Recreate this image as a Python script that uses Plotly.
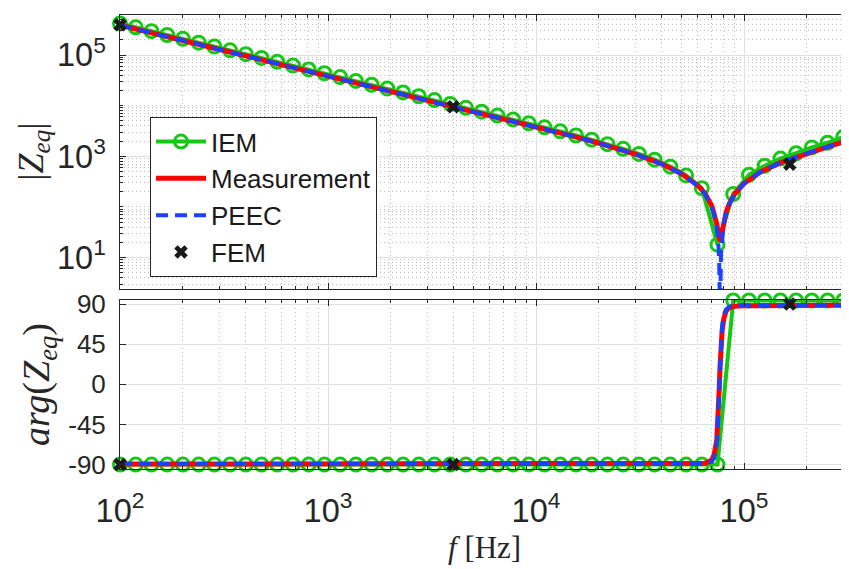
import plotly.graph_objects as go

# ---------------- data ----------------
iem_f = [100, 119.0, 141.6, 168.6, 200.6, 238.8, 284.2, 338.2, 402.5, 479.0,
         570.1, 678.5, 807.5, 961.0, 1143.7, 1361.2, 1620.0, 1927.9, 2294.5, 2730.8,
         3250.0, 3868.0, 4603.4, 5478.6, 6520.3, 7760.0, 9235.4, 10991, 13081, 15568,
         18528, 22051, 26244, 31233, 37172, 44240, 52652, 62662, 74577, 88756,
         105632, 125716, 149620, 178067, 211924, 252218, 300000]
iem_mag = [418830, 351960, 295780, 248420, 208790, 175390, 147370, 123840, 104060, 87440,
           73460, 61720, 51860, 43580, 36610, 30760, 25840, 21710, 18240, 15320,
           12860, 10800, 9065, 7605, 6376, 5341, 4468, 3731, 3107, 2577,
           2126, 1739, 1405, 1114, 857, 625, 420, 235, 18, 180,
           430, 650, 900, 1150, 1500, 1850, 2400]
iem_phase = [-90, -90, -90, -90, -90, -90, -90, -90, -90, -90,
             -90, -90, -90, -90, -90, -90, -90, -90, -90, -90,
             -90, -90, -90, -90, -90, -90, -90, -90, -90, -90,
             -90, -90, -90, -90, -90, -90, -90, -90, -90, 94,
             94, 94, 94, 94, 94, 94, 94]

meas_f = [100, 150, 200, 300, 500, 700, 1000, 1500, 2000, 3000,
          5000, 7000, 10000, 15000, 20000, 30000, 40000, 50000, 60000, 65000,
          70000, 72000, 74000, 75000, 76000, 76700, 77500, 78500, 80000, 82000,
          85000, 90000, 100000, 120000, 150000, 200000, 250000, 316000]
meas_mag = [390100, 260060, 195040, 130030, 78015, 55722, 39002, 25996, 19491, 12983,
            7769, 5526, 3835, 2501, 1818, 1101, 712, 452, 265, 185,
            105, 75, 46, 33, 24, 21, 25, 35, 52, 78,
            117, 178, 290, 490, 750, 1140, 1510, 2050]
meas_phase = [-89.5, -89.5, -89.5, -89.5, -89.5, -89.5, -89.5, -89.5, -89.5, -89.5,
              -89.5, -89.5, -89.5, -89.5, -89.5, -89.5, -89.5, -89.5, -89.3, -88.5,
              -85, -78, -62, -40, -5, 20, 42, 60, 74, 82,
              86, 87.5, 88, 88.3, 88.5, 88.5, 88.5, 88.5]

peec_f = [100, 150, 200, 300, 500, 700, 1000, 1500, 2000, 3000,
          5000, 7000, 10000, 15000, 20000, 30000, 40000, 50000, 60000, 65000,
          70000, 72000, 74000, 75000, 76000, 76700, 77500, 78500, 80000, 82000,
          85000, 90000, 100000, 120000, 150000, 200000, 250000, 316000]
peec_mag = [390100, 260060, 195040, 130030, 78015, 55722, 39002, 25996, 19491, 12983,
            7769, 5526, 3835, 2501, 1818, 1101, 712, 452, 262, 180,
            98, 68, 38, 24, 9, 0.6, 12, 27, 47, 74,
            114, 175, 290, 490, 750, 1140, 1510, 2050]
peec_phase = [-89.5, -89.5, -89.5, -89.5, -89.5, -89.5, -89.5, -89.5, -89.5, -89.5,
              -89.5, -89.5, -89.5, -89.5, -89.5, -89.5, -89.5, -89.5, -89.5, -89,
              -87, -82, -68, -48, -12, 15, 45, 65, 78, 84,
              87, 88, 88.5, 88.5, 88.5, 88.5, 88.5, 88.5]

fem_f = [100, 4000, 166000]
fem_mag = [395000, 9500, 700]
fem_phase = [-90, -90, 90]

phase_ticks = [-90, -45, 0, 45, 90]

# ---------------- styling ----------------
GREEN = "rgb(20,200,20)"
RED = "rgb(255,0,0)"
BLUE = "rgb(25,65,255)"
AX = "#262626"
FONT = "Liberation Sans, Arial, sans-serif"
SERIF = "Liberation Serif, Times New Roman, serif"

fig = go.Figure()

iem_line = dict(color=GREEN, width=4)
iem_marker = dict(symbol="circle-open", size=13, color=GREEN, line=dict(width=3, color=GREEN))
fem_marker = dict(symbol="x", size=12, color="#1a1a1a", line=dict(width=0))
red_line = dict(color=RED, width=5)
blue_line = dict(color=BLUE, width=4, dash="12px,7px")

# magnitude (top)
fig.add_trace(go.Scatter(x=iem_f, y=iem_mag, mode="lines+markers", name="IEM",
                         line=iem_line, marker=iem_marker, cliponaxis=False,
                         xaxis="x", yaxis="y"))
fig.add_trace(go.Scatter(x=meas_f, y=meas_mag, mode="lines", name="Measurement",
                         line=red_line, xaxis="x", yaxis="y"))
fig.add_trace(go.Scatter(x=peec_f, y=peec_mag, mode="lines", name="PEEC",
                         line=blue_line, xaxis="x", yaxis="y"))
fig.add_trace(go.Scatter(x=fem_f, y=fem_mag, mode="markers", name="FEM",
                         marker=fem_marker, cliponaxis=False, xaxis="x", yaxis="y"))

# phase (bottom)
fig.add_trace(go.Scatter(x=iem_f, y=iem_phase, mode="lines+markers", showlegend=False,
                         line=iem_line, marker=iem_marker, cliponaxis=False,
                         xaxis="x2", yaxis="y2"))
fig.add_trace(go.Scatter(x=meas_f, y=meas_phase, mode="lines", showlegend=False,
                         line=red_line, xaxis="x2", yaxis="y2"))
fig.add_trace(go.Scatter(x=peec_f, y=peec_phase, mode="lines", showlegend=False,
                         line=blue_line, xaxis="x2", yaxis="y2"))
fig.add_trace(go.Scatter(x=fem_f, y=fem_phase, mode="markers", showlegend=False,
                         marker=fem_marker, cliponaxis=False, xaxis="x2", yaxis="y2"))

minor_log = dict(dtick="D1", ticks="inside", ticklen=3, tickcolor=AX,
                 showgrid=True, gridcolor="#bdbdbd", griddash="1px,3px", gridwidth=1)
common = dict(showline=True, linecolor=AX, linewidth=1, mirror="allticks",
              ticks="inside", ticklen=6, tickcolor=AX, zeroline=False,
              gridcolor="#e0e0e0", gridwidth=1, automargin=False,
              tickfont=dict(family=FONT, size=26, color=AX))

# The page body has an 8px margin, so the figure is drawn 8px in from the window edge.
fig.update_layout(
    width=841, height=561,
    margin=dict(l=112, r=1, t=7, b=100, autoexpand=False),
    plot_bgcolor="white", paper_bgcolor="white",
    hovermode=False,
    xaxis=dict(type="log", range=[2, 5.5], domain=[0, 1], anchor="y",
               dtick=1, showticklabels=False, minor=minor_log, **common),
    yaxis=dict(type="log", range=[0.38, 5.79], domain=[0.3965, 1], anchor="x",
               tick0=1, dtick=2, exponentformat="power", showexponent="all",
               labelalias={"10": "10<sup>1</sup>"},
               ticklabelstandoff=8, minor=minor_log, **common),
    xaxis2=dict(type="log", range=[2, 5.5], domain=[0, 1], anchor="y2",
                dtick=1, exponentformat="power", showexponent="all",
                ticklabelstandoff=14, minor=minor_log, **common),
    yaxis2=dict(range=[-95, 94.5], domain=[0, 0.3722], anchor="x2",
                tickvals=phase_ticks, ticktext=[str(v) for v in phase_ticks],
                ticklabelstandoff=8, **common),
    legend=dict(x=0.0412, y=0.775, xanchor="left", yanchor="top",
                bgcolor="white", bordercolor=AX, borderwidth=1,
                font=dict(family=FONT, size=26, color="#1a1a1a"),
                itemwidth=50, tracegroupgap=0),
    annotations=[
        dict(text="|<i>Z</i><sub><i>eq</i></sub>|", xref="paper", yref="paper",
             x=-0.12, y=0.698, xanchor="center", yanchor="middle", textangle=-90,
             showarrow=False, font=dict(family=SERIF, size=36, color=AX)),
        dict(text="<i>arg</i>(<i>Z</i><sub><i>eq</i></sub>)", xref="paper", yref="paper",
             x=-0.112, y=0.186, xanchor="center", yanchor="middle", textangle=-90,
             showarrow=False, font=dict(family=SERIF, size=38, color=AX)),
        dict(text="<i>f</i> [Hz]", xref="paper", yref="paper",
             x=0.5, y=-0.174, xanchor="center", yanchor="middle",
             showarrow=False, font=dict(family=SERIF, size=31, color=AX)),
    ],
)

fig.write_html("out.html")
